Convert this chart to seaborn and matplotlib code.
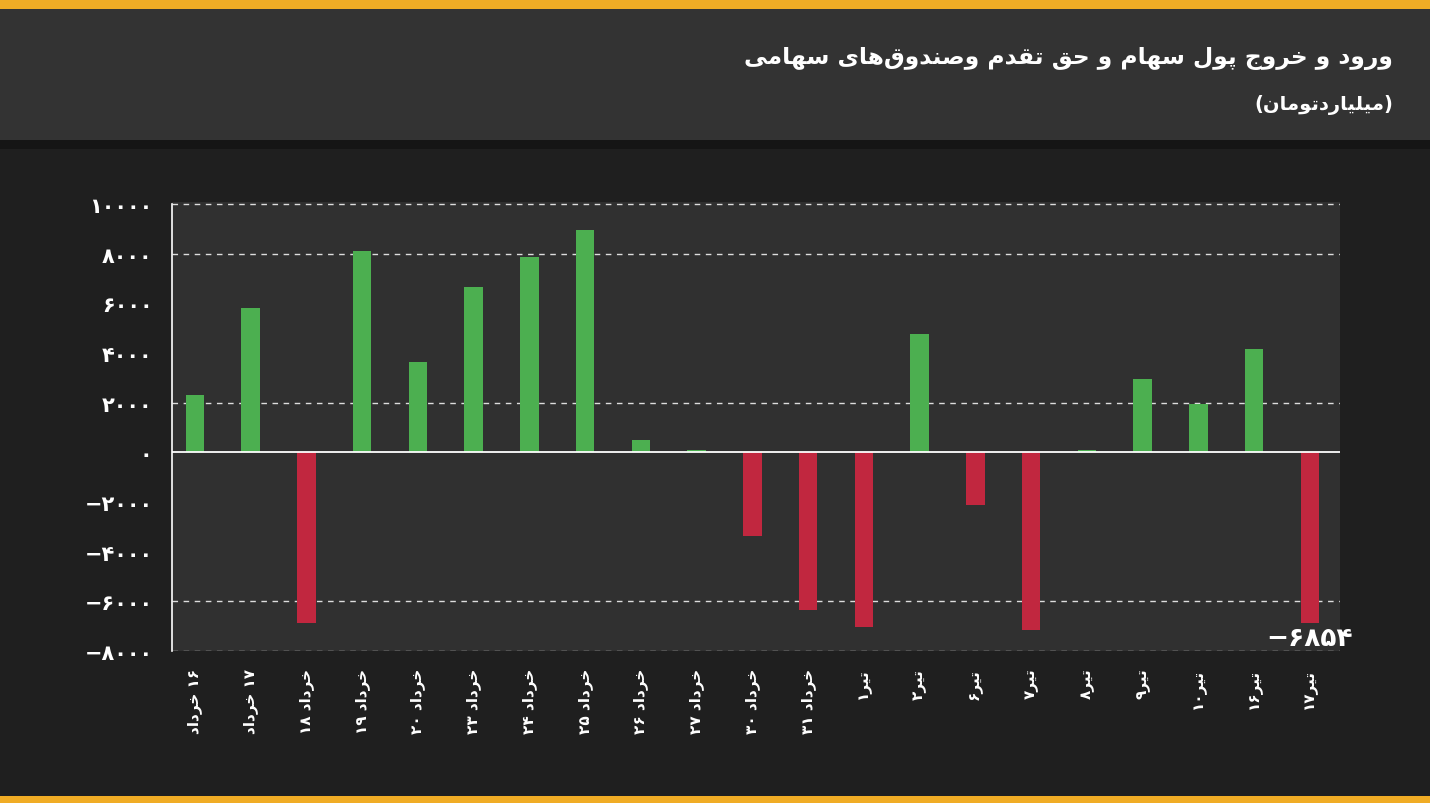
import matplotlib
matplotlib.use("Agg")
import matplotlib.pyplot as plt
import seaborn as sns
import pandas as pd
from matplotlib.patches import Rectangle

# داده‌ها (میلیارد تومان)
days = ["۱۶ خرداد", "۱۷ خرداد", "خرداد ۱۸", "خرداد ۱۹", "خرداد ۲۰", "خرداد ۲۳",
        "خرداد ۲۴", "خرداد ۲۵", "خرداد ۲۶", "خرداد ۲۷", "خرداد ۳۰", "خرداد ۳۱",
        "تیر۱", "تیر۲", "تیر۶", "تیر۷", "تیر۸", "تیر۹", "تیر۱۰", "تیر۱۶", "تیر۱۷"]
values = [2300, 5800, -6870, 8100, 3620, 6650, 7850, 8950, 480, 80, -3380, -6350,
          -7050, 4780, -2130, -7150, 80, 2970, 1930, 4180, -6854]
y_ticks = [-8000, -6000, -4000, -2000, 0, 2000, 4000, 6000, 8000, 10000]
grid_vals = [10000, 8000, 2000, -6000, -8000]

title = "ورود و خروج پول سهام و حق تقدم وصندوق\u200cهای سهامی"
subtitle = "میلیاردتومان"

GREEN = "#4caf50"
RED = "#c1273f"

# شکل‌دهی ساده حروف فارسی (matplotlib خودش این کار را نمی‌کند)
DUAL = {
    "خ": "\uFEA5\uFEA6\uFEA7\uFEA8", "ج": "\uFE9D\uFE9E\uFE9F\uFEA0",
    "ح": "\uFEA1\uFEA2\uFEA3\uFEA4", "پ": "\uFB56\uFB57\uFB58\uFB59",
    "ل": "\uFEDD\uFEDE\uFEDF\uFEE0", "س": "\uFEB1\uFEB2\uFEB3\uFEB4",
    "ه": "\uFEE9\uFEEA\uFEEB\uFEEC", "م": "\uFEE1\uFEE2\uFEE3\uFEE4",
    "ق": "\uFED5\uFED6\uFED7\uFED8", "ت": "\uFE95\uFE96\uFE97\uFE98",
    "ص": "\uFEB9\uFEBA\uFEBB\uFEBC", "ن": "\uFEE5\uFEE6\uFEE7\uFEE8",
    "ی": "\uFBFC\uFBFD\uFBFE\uFBFF",
}
RIGHT = {"ا": "\uFE8D\uFE8E", "د": "\uFEA9\uFEAA", "ر": "\uFEAD\uFEAE", "و": "\uFEED\uFEEE"}
DIGITS = set("۰۱۲۳۴۵۶۷۸۹0123456789")


def shape(text):
    out = []
    for i, c in enumerate(text):
        if c not in DUAL and c not in RIGHT:
            out.append(c)
            continue
        prev = i > 0 and text[i - 1] in DUAL
        nxt = i + 1 < len(text) and (text[i + 1] in DUAL or text[i + 1] in RIGHT)
        if c in RIGHT:
            out.append(RIGHT[c][1] if prev else RIGHT[c][0])
        else:
            f = DUAL[c]
            if prev and nxt:
                out.append(f[3])
            elif nxt:
                out.append(f[2])
            elif prev:
                out.append(f[1])
            else:
                out.append(f[0])
    return "".join(ch for ch in out if ch != "\u200c")


def fa(text):
    # ترتیب نمایشی چپ به راست، اعداد دست نخورده می‌مانند
    s = shape(text)
    runs, cur = [], ""
    for ch in s:
        if cur and ((ch in DIGITS) != (cur[-1] in DIGITS)):
            runs.append(cur)
            cur = ""
        cur += ch
    if cur:
        runs.append(cur)
    return "".join(r if r[0] in DIGITS else r[::-1] for r in reversed(runs))


def fa_num(v):
    s = str(abs(int(v))).translate(str.maketrans("0123456789", "۰۱۲۳۴۵۶۷۸۹"))
    return ("−" if v < 0 else "") + s


df = pd.DataFrame({"day": days, "value": values})
df["sign"] = ["pos" if v >= 0 else "neg" for v in values]

sns.set_style("dark")
plt.rcParams["font.family"] = ["DejaVu Sans"]

fig = plt.figure(figsize=(14.3, 8.04), dpi=100)
fig.patch.set_facecolor("#1f1f1f")

# نوار بالا و سربرگ
fig.add_artist(Rectangle((0, 1 - 141 / 804), 1, 131 / 804, transform=fig.transFigure,
                         facecolor="#333333", edgecolor="none", zorder=0))
fig.add_artist(Rectangle((0, 1 - 10 / 804), 1, 10 / 804, transform=fig.transFigure,
                         facecolor="#f0ac25", edgecolor="none", zorder=0))
fig.add_artist(Rectangle((0, 0), 1, 7 / 804, transform=fig.transFigure,
                         facecolor="#f0ac25", edgecolor="none", zorder=0))
fig.add_artist(Rectangle((0, 1 - 150 / 804), 1, 9 / 804, transform=fig.transFigure,
                         facecolor="#151515", edgecolor="none", zorder=0))

ax = fig.add_axes([172 / 1430, 1 - 652 / 804, (1340 - 172) / 1430, (652 - 203) / 804])
ax.set_facecolor("#303030")

sns.barplot(data=df, x="day", y="value", hue="sign", order=days,
            palette={"pos": GREEN, "neg": RED}, dodge=False, legend=False,
            width=0.33, saturation=1, linewidth=0, edgecolor="none", ax=ax, zorder=3)

for g in grid_vals:
    ax.axhline(g, color="#dddddd", lw=1, ls=(0, (4, 4)), zorder=1)
ax.axhline(0, color="white", lw=1.3, zorder=4)

ax.set_xlim(-0.41, len(days) - 0.46)
ax.set_ylim(-8000, 10080)
ax.set_yticks(y_ticks)
ax.set_yticklabels([fa_num(v) for v in y_ticks], fontsize=15, fontweight="bold", color="white")
ax.set_xticks(range(len(days)))
ax.set_xticklabels([fa(d) for d in days], rotation=90, fontsize=11, fontweight="bold",
                   color="white", va="top")
ax.tick_params(axis="both", length=0)
ax.tick_params(axis="y", pad=14)
ax.tick_params(axis="x", pad=12)
ax.set_xlabel("")
ax.set_ylabel("")
ax.grid(False)

for side in ["top", "right", "bottom"]:
    ax.spines[side].set_visible(False)
ax.spines["left"].set_color("white")
ax.spines["left"].set_linewidth(1.2)
ax.spines["left"].set_bounds(-8000, 10000)

# مقدار آخرین ستون
ax.annotate(fa_num(values[-1]), (len(days) - 1, values[-1]), xytext=(0, -2),
            textcoords="offset points", ha="center", va="top",
            fontsize=19, fontweight="bold", color="white", zorder=5)

fig.text(1393 / 1430, 1 - 58 / 804, fa(title), ha="right", va="center",
         fontsize=16.8, fontweight="bold", color="white")
fig.text(1393 / 1430, 1 - 105 / 804, "(" + fa(subtitle) + ")", ha="right", va="center",
         fontsize=14, fontweight="bold", color="white")

fig.savefig("out.png", dpi=100, facecolor=fig.get_facecolor())
